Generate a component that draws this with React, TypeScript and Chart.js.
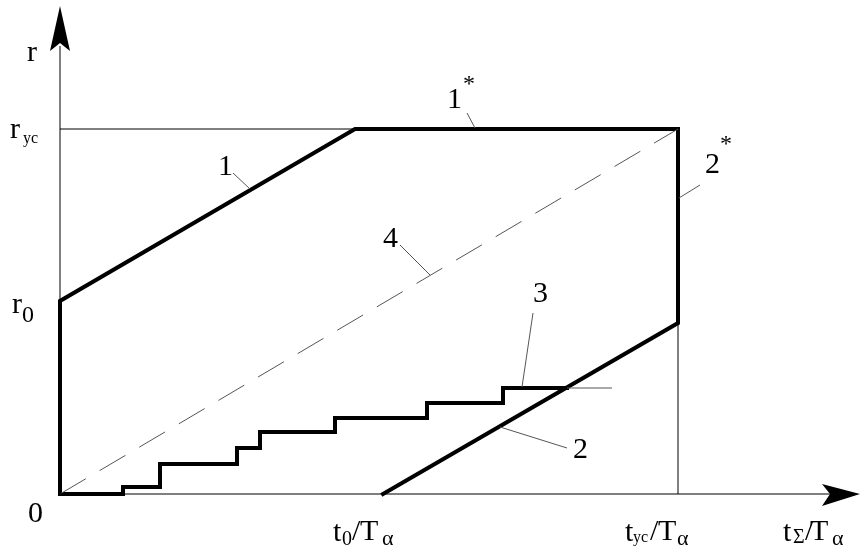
import { useEffect, useRef } from "react";
import { Chart, registerables } from "chart.js";

Chart.register(...registerables);

// Axis ranges: t_Σ/T_α horizontally, r vertically
const X_MAX = 800;
const Y_MAX = 488;

// Key levels on the axes
const R0 = 193;
const R_YC = 365;
const T0 = 323;
const T_YC = 618;
const T_KNEE = 295; // line 1 reaches r_yc here
const R_END = 171; // line 2 meets t_yc here

// Boundary: left edge, line 1, segment 1*, segment 2*, line 2
const outlineX = [0, 0, T_KNEE, T_YC, T_YC, T0];
const outlineY = [0, R0, R_YC, R_YC, R_END, 0];

// Staircase 3 (step-before points)
const stepX = [0, 63, 100, 177, 200, 275, 367, 443, 507];
const stepY = [0, 7, 30, 46, 62, 76, 91, 106, 106];
const stepTailX = [507, 552];
const stepTailY = [106, 106];

// Line 4
const diagX = [0, T_YC];
const diagY = [0, R_YC];

// Axis line extents (arrow heads drawn past these)
const xAxisX = [0, 770];
const yAxisY = [0, 448];

// Leader lines from labels to curves: [x1, y1, x2, y2]
const leader1 = [173, 321, 190, 305];
const leader1s = [407, 381, 415, 366];
const leader2s = [640, 309, 619, 296];
const leader4 = [340, 249, 370, 219];
const leader3 = [473, 181, 462, 107];
const leader2 = [507, 46, 440, 67];

const pts = (xs: number[], ys: number[]) => xs.map((x, i) => ({ x, y: ys[i] }));
const seg = (s: number[]) => [
  { x: s[0], y: s[1] },
  { x: s[2], y: s[3] },
];

const SERIF = '"Liberation Serif", "Times New Roman", serif';

type Piece = [string, number, number, number]; // text, dx, dy, size

const labelsPlugin = {
  id: "diagramLabels",
  afterDatasetsDraw(chart: any) {
    const { ctx, scales, chartArea } = chart;
    const px = (v: number) => scales.x.getPixelForValue(v);
    const py = (v: number) => scales.y.getPixelForValue(v);
    const ox = px(0);
    const oy = py(0);

    ctx.save();
    ctx.fillStyle = "#000";

    // arrow heads
    const xr = chartArea.right;
    ctx.beginPath();
    ctx.moveTo(xr, oy);
    ctx.lineTo(xr - 38, oy - 10);
    ctx.lineTo(xr - 30, oy);
    ctx.lineTo(xr - 38, oy + 12);
    ctx.closePath();
    ctx.fill();

    const yt = chartArea.top;
    ctx.beginPath();
    ctx.moveTo(ox, yt);
    ctx.lineTo(ox - 10, yt + 45);
    ctx.lineTo(ox, yt + 37);
    ctx.lineTo(ox + 10, yt + 45);
    ctx.closePath();
    ctx.fill();

    ctx.textBaseline = "alphabetic";
    ctx.textAlign = "left";
    const draw = (ax: number, ay: number, pieces: Piece[]) => {
      for (const [t, dx, dy, size] of pieces) {
        ctx.font = `${size}px ${SERIF}`;
        ctx.fillText(t, ax + dx, ay + dy);
      }
    };

    // vertical axis labels
    draw(ox, yt, [["r", -33, 55, 30]]);
    draw(ox, py(R_YC), [
      ["r", -50, 9, 30],
      ["yc", -37, 14, 16],
    ]);
    draw(ox, py(R0), [
      ["r", -48, 12, 30],
      ["0", -38, 21, 24],
    ]);
    draw(ox, oy, [["0", -32, 28, 30]]);

    // horizontal axis labels
    draw(px(T0), oy, [
      ["t", -50, 47, 30],
      ["0", -41, 51, 20],
      ["/", -31, 46, 30],
      ["T", -23, 46, 30],
      ["α", -1, 51, 22],
    ]);
    draw(px(T_YC), oy, [
      ["t", -53, 47, 30],
      ["yc", -45, 48, 16],
      ["/", -28, 46, 30],
      ["T", -20, 46, 30],
      ["α", -1, 51, 22],
    ]);
    draw(chartArea.right, oy, [
      ["t", -77, 47, 30],
      ["Σ", -67, 49, 20],
      ["/", -55, 46, 30],
      ["T", -50, 46, 30],
      ["α", -28, 51, 22],
    ]);

    // curve labels
    draw(px(leader1[0]), py(leader1[1]), [["1", -15, 2, 30]]);
    draw(px(leader1s[0]), py(leader1s[1]), [
      ["1", -20, -5, 30],
      ["*", -4, -22, 24],
    ]);
    draw(px(leader2s[0]), py(leader2s[1]), [
      ["2", 5, -12, 30],
      ["*", 20, -34, 24],
    ]);
    draw(px(leader4[0]), py(leader4[1]), [["4", -17, 2, 30]]);
    draw(px(leader3[0]), py(leader3[1]), [["3", 0, -11, 30]]);
    draw(px(leader2[0]), py(leader2[1]), [["2", 6, 10, 30]]);

    ctx.restore();
  },
};

export default function App() {
  const ref = useRef<HTMLCanvasElement | null>(null);

  useEffect(() => {
    if (!ref.current) return;
    const thin = (data: { x: number; y: number }[], color = "#000") => ({
      data,
      borderColor: color,
      borderWidth: 1,
      pointRadius: 0,
      showLine: true,
      clip: false as const,
    });
    const leaderColor = "#555";

    const chart = new Chart(ref.current, {
      type: "scatter",
      data: {
        datasets: [
          thin(pts(xAxisX, [0, 0])),
          thin(pts([0, 0], yAxisY)),
          thin(pts([0, T_KNEE], [R_YC, R_YC])),
          thin(pts([T_YC, T_YC], [0, R_END])),
          { ...thin(pts(diagX, diagY), "#555"), borderDash: [30, 16] },
          thin(pts(stepTailX, stepTailY), "#555"),
          thin(seg(leader1), leaderColor),
          thin(seg(leader1s), leaderColor),
          thin(seg(leader2s), leaderColor),
          thin(seg(leader4), leaderColor),
          thin(seg(leader3), leaderColor),
          thin(seg(leader2), leaderColor),
          {
            ...thin(pts(stepX, stepY)),
            borderWidth: 4,
            stepped: "before" as const,
            borderJoinStyle: "miter" as const,
            borderCapStyle: "square" as const,
          },
          {
            ...thin(pts(outlineX, outlineY)),
            borderWidth: 4,
            borderJoinStyle: "miter" as const,
            borderCapStyle: "square" as const,
          },
        ],
      },
      options: {
        responsive: false,
        animation: false,
        events: [],
        layout: { padding: { left: 60, right: 0, top: 6, bottom: 57 } },
        plugins: { legend: { display: false }, tooltip: { enabled: false } },
        scales: {
          x: { type: "linear", min: 0, max: X_MAX, display: false },
          y: { type: "linear", min: 0, max: Y_MAX, display: false },
        },
      },
      plugins: [labelsPlugin],
    });
    return () => chart.destroy();
  }, []);

  return (
    <div style={{ position: "fixed", left: 0, top: 0, width: 860, height: 551, background: "#fff" }}>
      <canvas ref={ref} width={860} height={551} />
    </div>
  );
}
